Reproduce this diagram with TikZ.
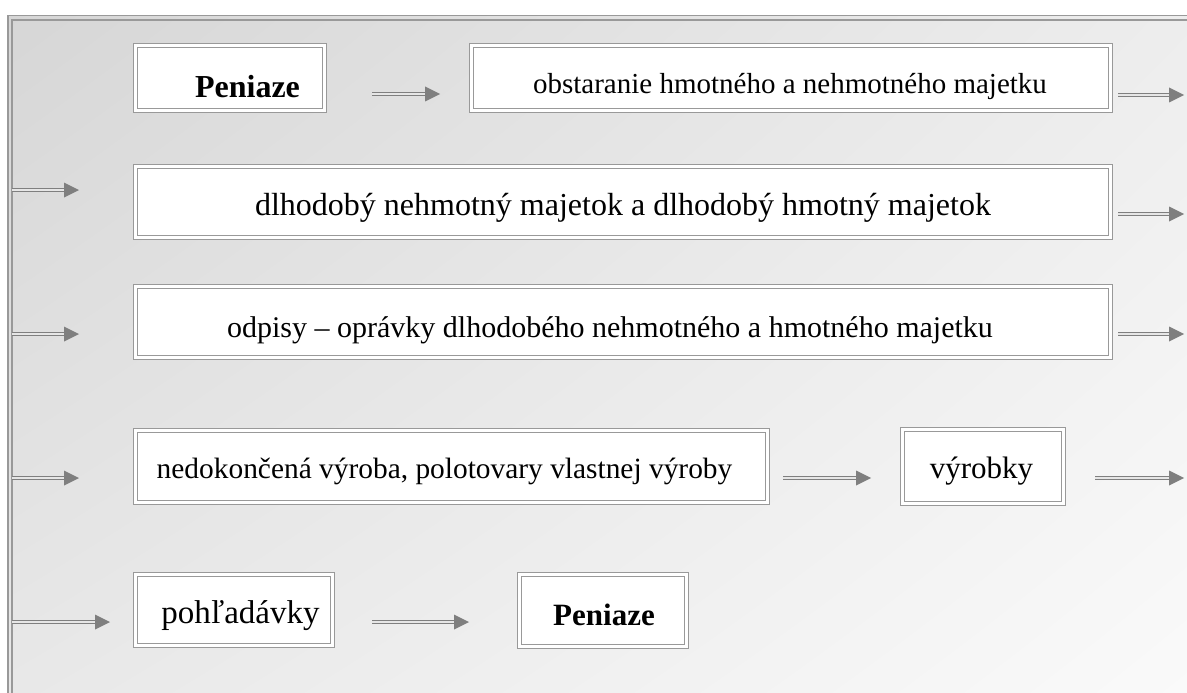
\documentclass[tikz,border=0pt]{standalone}
\usepackage{fontspec}
\setmainfont{Liberation Serif}
\usetikzlibrary{shadings}
\definecolor{ln}{HTML}{999999}
\definecolor{ar}{HTML}{7F7F7F}
\definecolor{gap}{HTML}{E6E6E6}
\tikzset{
  box/.style={draw=ln, line width=1.2pt, double=white, double distance=2.4pt,
    fill=white, inner sep=0pt, outer sep=0pt, anchor=center},
  txt/.style={inner sep=0pt, anchor=base, font=\fontsize{#1}{#1}\selectfont},
  shaft/.style={draw=ar, line width=1pt, double=gap, double distance=1.5pt, shorten >=14pt},
  tiphead/.style={fill=ar}
}
\begin{document}
\begin{tikzpicture}[x=1pt,y=-1pt]
\useasboundingbox (0,0) rectangle (1187,693);
\shade[upper left=black!16, upper right=black!7, lower left=black!9, lower right=black!2]
  (9,16) rectangle (1187,693);
\draw[ln, line width=1.8pt] (8,15.5) rectangle (1205,712);
\draw[ln, line width=1.2pt] (12,20) rectangle (1200,708);

\node[box, minimum width=189pt, minimum height=65pt] (b1) at (230,78) {};
\node[box, minimum width=639pt, minimum height=65pt] (b2) at (791,78) {};
\node[box, minimum width=975pt, minimum height=71pt] (b3) at (623,202) {};
\node[box, minimum width=975pt, minimum height=71pt] (b4) at (623,322) {};
\node[box, minimum width=632pt, minimum height=72pt] (b5) at (451.5,466.5) {};
\node[box, minimum width=161pt, minimum height=74pt] (b6) at (983,466.5) {};
\node[box, minimum width=197pt, minimum height=71pt] (b7) at (234,610) {};
\node[box, minimum width=167pt, minimum height=72pt] (b8) at (603,610.5) {};

\node[txt=32] (t1) at (247.5,97) {\bfseries Peniaze};
\node[txt=29] (t2) at (790,93) {obstaranie hmotného a nehmotného majetku};
\node[txt=32] (t3) at (623,215) {dlhodobý nehmotný majetok a dlhodobý hmotný majetok};
\node[txt=30] (t4) at (610,337) {odpisy – oprávky dlhodobého nehmotného a hmotného majetku};
\node[txt=29.4] (t5) at (444.5,478) {nedokončená výroba, polotovary vlastnej výroby};
\node[txt=31] (t6) at (981.5,478) {výrobky};
\node[txt=33] (t7) at (240.5,623) {pohľadávky};
\node[txt=31] (t8) at (604,625) {\bfseries Peniaze};

\coordinate (s1) at (372,94);   \coordinate (e1) at (440,94);
\coordinate (s2) at (1118,95);  \coordinate (e2) at (1184,95);
\coordinate (s3) at (12,190);   \coordinate (e3) at (79,190);
\coordinate (s4) at (1118,214); \coordinate (e4) at (1184,214);
\coordinate (s5) at (12,334);   \coordinate (e5) at (79,334);
\coordinate (s6) at (1118,334); \coordinate (e6) at (1184,334);
\coordinate (s7) at (12,478);   \coordinate (e7) at (79,478);
\coordinate (s8) at (783,478);  \coordinate (e8) at (871,478);
\coordinate (s9) at (1095,478); \coordinate (e9) at (1184,478);
\coordinate (s10) at (12,622);  \coordinate (e10) at (110,622);
\coordinate (s11) at (372,622); \coordinate (e11) at (469,622);
\foreach \i in {1,...,11} {
  \draw[shaft] (s\i) -- (e\i);
  \fill[tiphead] (e\i) -- ++(-15,-7.5) -- ++(0,15) -- cycle;
}
\end{tikzpicture}
\end{document}
